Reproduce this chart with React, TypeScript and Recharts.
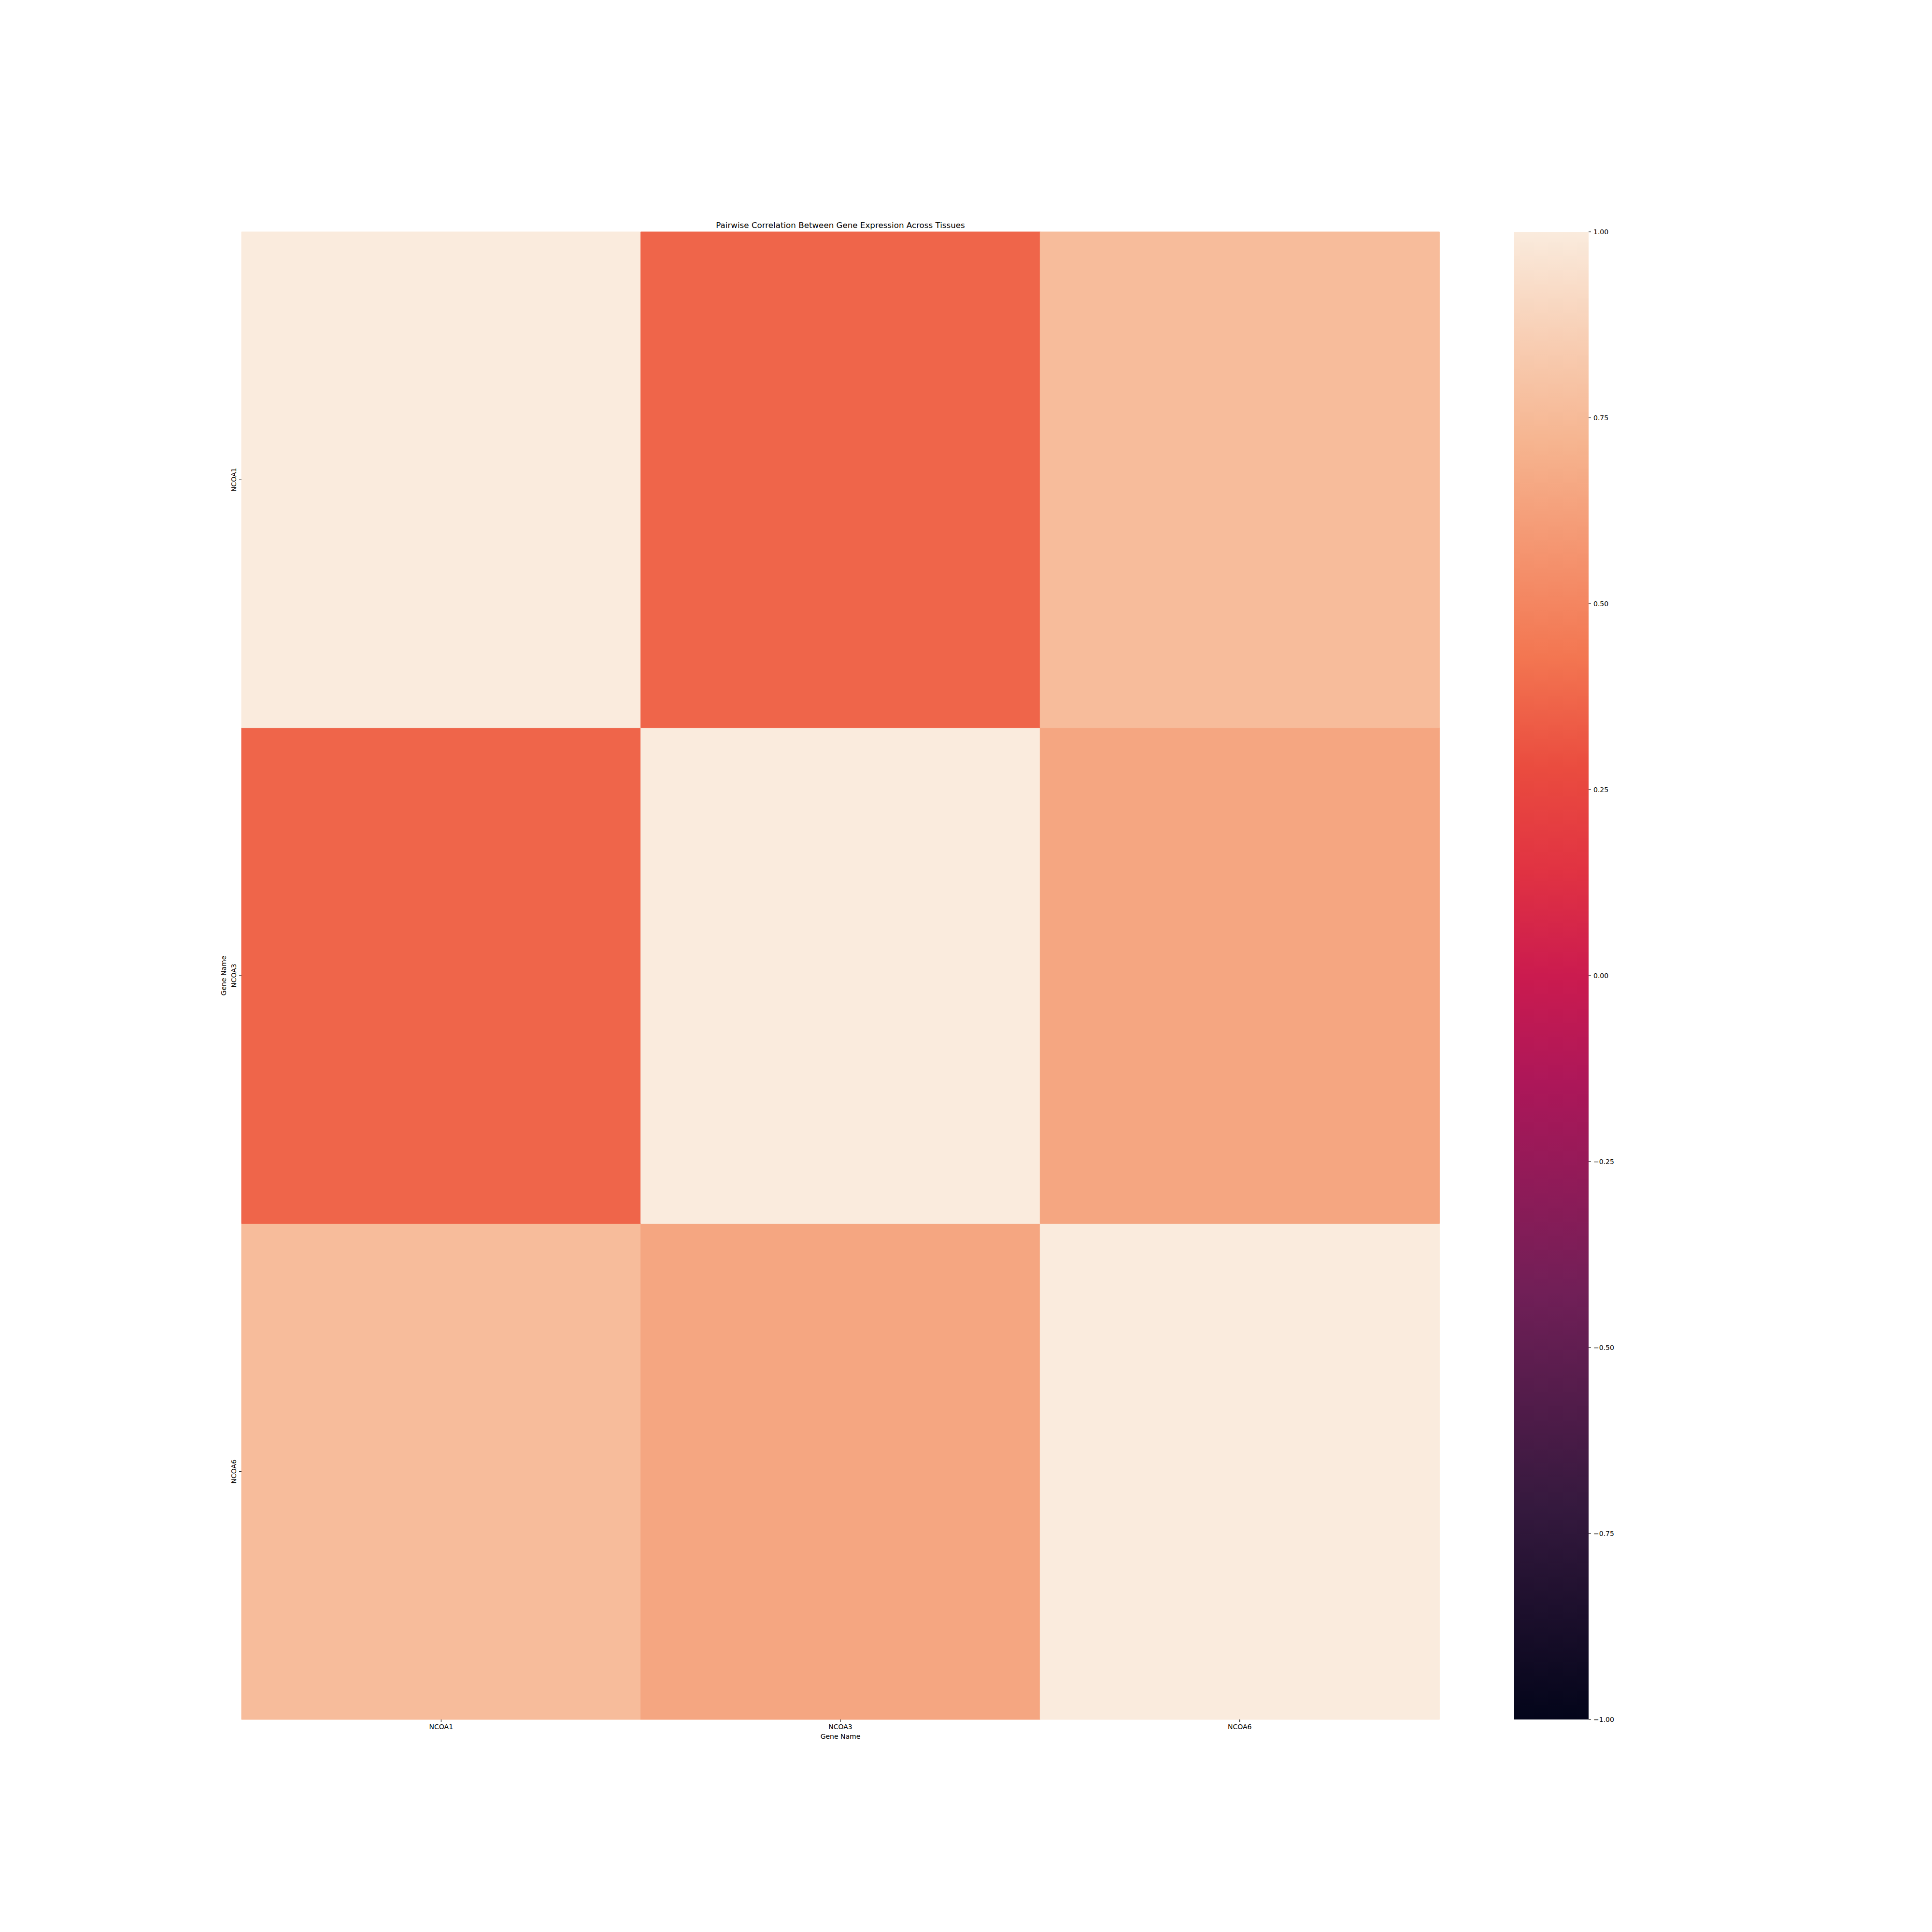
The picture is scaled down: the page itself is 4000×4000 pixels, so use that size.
import { Bar, BarChart, Cell, XAxis, YAxis } from 'recharts'

const GENES = ['NCOA1', 'NCOA3', 'NCOA6']
// correlation rows (top to bottom), columns follow GENES
const CORR_NCOA1 = [1.0, 0.37, 0.76]
const CORR_NCOA3 = [0.37, 1.0, 0.65]
const CORR_NCOA6 = [0.76, 0.65, 1.0]
const CBAR_TICKS = [-1, -0.75, -0.5, -0.25, 0, 0.25, 0.5, 0.75, 1]

// seaborn "rocket" colormap anchors
const ROCKET_POS = [0, 1 / 7, 2 / 7, 3 / 7, 0.5, 4 / 7, 0.64, 5 / 7, 6 / 7, 0.93, 1]
const ROCKET_HEX = [
  '#03051a', '#35193e', '#701f57', '#ad1759', '#cb1b4f',
  '#e13342', '#ea4c3f', '#f37651', '#f6b48f', '#f8cfb5', '#faebdd',
]

const FONT = '"DejaVu Sans", sans-serif'

const hexToRgb = (h: string) => [1, 3, 5].map((i) => parseInt(h.slice(i, i + 2), 16))

function rocket(t: number) {
  const v = Math.max(0, Math.min(1, t))
  let i = 0
  while (i < ROCKET_POS.length - 2 && v > ROCKET_POS[i + 1]) i++
  const f = (v - ROCKET_POS[i]) / (ROCKET_POS[i + 1] - ROCKET_POS[i])
  const a = hexToRgb(ROCKET_HEX[i])
  const b = hexToRgb(ROCKET_HEX[i + 1])
  const c = a.map((x, k) => Math.round(x + (b[k] - x) * f))
  return `rgb(${c[0]},${c[1]},${c[2]})`
}

const ROWS = [
  { key: 'NCOA1', corr: CORR_NCOA1 },
  { key: 'NCOA3', corr: CORR_NCOA3 },
  { key: 'NCOA6', corr: CORR_NCOA6 },
]

// each column stacks the three rows, one unit tall each (bottom row first)
const heatData = GENES.map((g) => ({ gene: g, NCOA6: 1, NCOA3: 1, NCOA1: 1 }))
const ROW_TICK_NAMES: Record<string, string> = { '2.5': 'NCOA1', '1.5': 'NCOA3', '0.5': 'NCOA6' }

const cbarData = [{ name: 'cbar', range: [-1, 1] }]

const fmtTick = (v: number) => v.toFixed(2).replace('-', '\u2212')

function RowTick(props: any) {
  const { x, y, payload } = props
  return (
    <text
      x={x}
      y={y}
      transform={`rotate(-90 ${x} ${y})`}
      textAnchor="middle"
      fontFamily={FONT}
      fontSize={14}
      fill="#000"
    >
      {ROW_TICK_NAMES[String(payload.value)]}
    </text>
  )
}

function YLabel(props: any) {
  const vb = props.viewBox ?? { x: 440, y: 480, width: 60, height: 3080 }
  const x = vb.x + vb.width - 32
  const y = vb.y + vb.height / 2
  return (
    <text
      x={x}
      y={y}
      transform={`rotate(-90 ${x} ${y})`}
      textAnchor="middle"
      fontFamily={FONT}
      fontSize={14}
      fill="#000"
    >
      Gene Name
    </text>
  )
}

export default function App() {
  return (
    <div style={{ position: 'absolute', left: 0, top: 0, width: 4000, height: 4000, background: '#fff' }}>
      <svg width={4000} height={4000} style={{ position: 'absolute', left: 0, top: 0 }}>
        <text x={1740} y={472} textAnchor="middle" fontFamily={FONT} fontSize={16.7} fill="#000">
          Pairwise Correlation Between Gene Expression Across Tissues
        </text>
      </svg>

      <div style={{ position: 'absolute', left: 0, top: 0 }}>
        <BarChart
          width={3000}
          height={4000}
          data={heatData}
          margin={{ top: 480, right: 20, bottom: 410, left: 440 }}
          barCategoryGap={0}
          barGap={0}
        >
          <XAxis
            dataKey="gene"
            type="category"
            height={30}
            axisLine={false}
            tickLine={{ stroke: '#000', strokeWidth: 1.1 }}
            tickSize={5}
            tickMargin={5}
            tick={{ fill: '#000', fontSize: 14, fontFamily: FONT }}
            interval={0}
            label={{ value: 'Gene Name', position: 'bottom', offset: 0, fill: '#000', fontSize: 14, fontFamily: FONT }}
          />
          <YAxis
            type="number"
            domain={[0, 3]}
            ticks={[0.5, 1.5, 2.5]}
            width={60}
            axisLine={false}
            tickLine={{ stroke: '#000', strokeWidth: 1.1 }}
            tickSize={5}
            tickMargin={6}
            tick={<RowTick />}
            label={<YLabel />}
          />
          {[...ROWS].reverse().map((row) => (
            <Bar key={row.key} dataKey={row.key} stackId="heat" isAnimationActive={false}>
              {GENES.map((g, j) => {
                const fill = rocket((row.corr[j] + 1) / 2)
                return <Cell key={g} fill={fill} stroke={fill} strokeWidth={1} />
              })}
            </Bar>
          ))}
        </BarChart>
      </div>

      <div style={{ position: 'absolute', left: 3000, top: 0 }}>
        <BarChart
          width={1000}
          height={4000}
          data={cbarData}
          margin={{ top: 480, right: 631, bottom: 440, left: 135 }}
          barCategoryGap={0}
        >
          <defs>
            <linearGradient id="rocketGrad" x1="0" y1="1" x2="0" y2="0">
              {ROCKET_POS.map((p, i) => (
                <stop key={i} offset={p} stopColor={ROCKET_HEX[i]} />
              ))}
            </linearGradient>
          </defs>
          <XAxis dataKey="name" type="category" hide />
          <YAxis
            orientation="right"
            type="number"
            domain={[-1, 1]}
            ticks={CBAR_TICKS}
            width={80}
            axisLine={false}
            tickLine={{ stroke: '#000', strokeWidth: 1.1 }}
            tickSize={5}
            tickMargin={5}
            tickFormatter={fmtTick}
            tick={{ fill: '#000', fontSize: 14, fontFamily: FONT }}
            interval={0}
          />
          <Bar dataKey="range" fill="url(#rocketGrad)" isAnimationActive={false} />
        </BarChart>
      </div>
    </div>
  )
}
